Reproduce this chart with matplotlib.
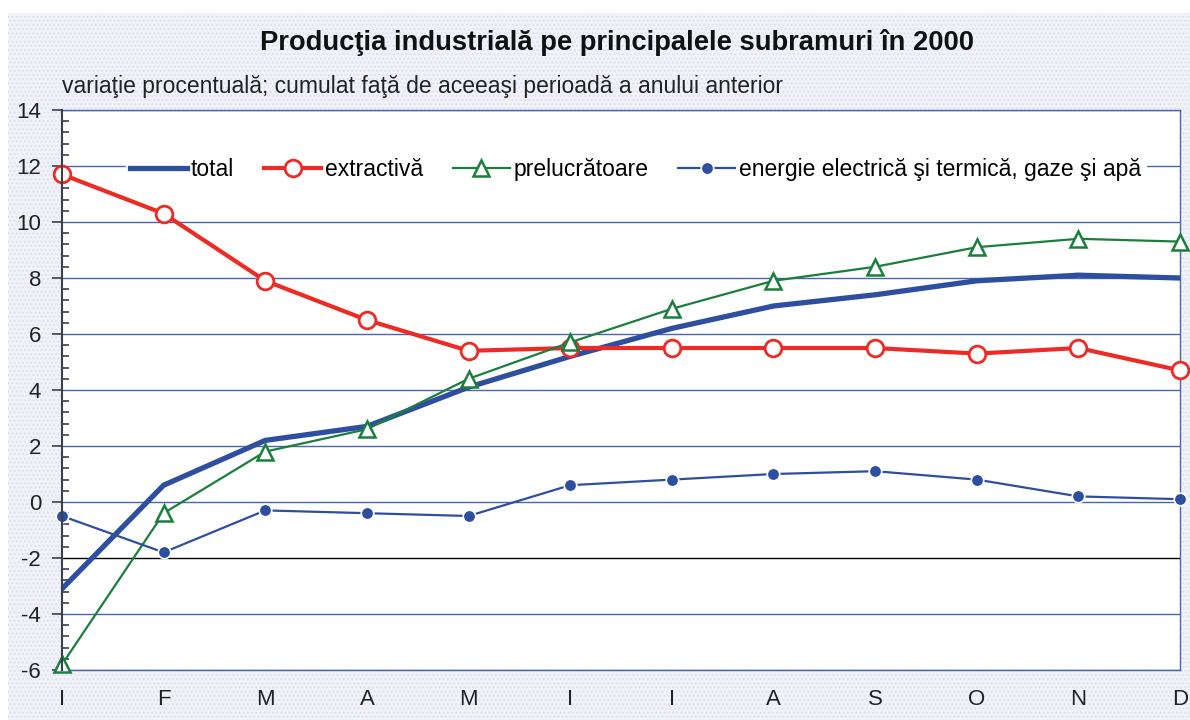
import numpy as np
import matplotlib.pyplot as plt
from matplotlib.patches import Rectangle
from matplotlib.ticker import MultipleLocator

plt.rcParams['font.family'] = ['Liberation Sans', 'DejaVu Sans']
plt.rcParams['axes.unicode_minus'] = False

months = ["I", "F", "M", "A", "M", "I", "I", "A", "S", "O", "N", "D"]
total = [-3.1, 0.6, 2.2, 2.7, 4.1, 5.2, 6.2, 7.0, 7.4, 7.9, 8.1, 8.0]
extractiva = [11.7, 10.3, 7.9, 6.5, 5.4, 5.5, 5.5, 5.5, 5.5, 5.3, 5.5, 4.7]
prelucratoare = [-5.8, -0.4, 1.8, 2.6, 4.4, 5.7, 6.9, 7.9, 8.4, 9.1, 9.4, 9.3]
energie = [-0.5, -1.8, -0.3, -0.4, -0.5, 0.6, 0.8, 1.0, 1.1, 0.8, 0.2, 0.1]

blue = '#2e4fa0'
red = '#ee2a24'
green = '#1a7f3c'
grid_blue = '#4a64b0'

fig = plt.figure(figsize=(11.9, 7.2), dpi=100)
fig.patch.set_facecolor('white')
# fundal cu textura fina
fig.patches.append(Rectangle((8/1190, 0), 1 - 8/1190, 1 - 13/720, transform=fig.transFigure,
                             facecolor='#f1f3f9', edgecolor='#dfe3f0', hatch='....',
                             linewidth=0, zorder=-10))

ax = fig.add_axes([62/1190, 1 - 670/720, (1180 - 62)/1190, 560/720])
ax.set_facecolor('white')

x = np.arange(len(months))
ax.plot(x, total, color=blue, lw=3.8, label='total', zorder=4, solid_joinstyle='round')
ax.plot(x, extractiva, color=red, lw=3, marker='o', ms=12, mfc='white', mec=red, mew=2,
        label='extractivă', zorder=5, clip_on=False)
ax.plot(x, prelucratoare, color=green, lw=1.6, marker='^', ms=11, mfc='white', mec=green, mew=1.8,
        label='prelucrătoare', zorder=5, clip_on=False)
ax.plot(x, energie, color=blue, lw=1.6, marker='o', ms=9, mfc=blue, mec='white', mew=1.2,
        label='energie electrică şi termică, gaze şi apă', zorder=5, clip_on=False)

ax.set_xlim(0, len(months) - 1)
ax.set_ylim(-6, 14)
ax.yaxis.set_major_locator(MultipleLocator(2))
ax.yaxis.set_minor_locator(MultipleLocator(0.4))
for v in range(-6, 15, 2):
    ax.axhline(v, color='black' if v == -2 else grid_blue, lw=1, zorder=1)

ax.set_xticks(x)
ax.set_xticklabels(months, fontsize=16, color='#222222')
ax.tick_params(axis='x', length=0, pad=14)
ax.tick_params(axis='y', which='major', direction='out', length=7, width=1.2,
               color='#3a4050', labelsize=16, labelcolor='#222222', pad=8)
ax.tick_params(axis='y', which='minor', direction='in', length=5, width=1.2, color='#3a4050')

for s in ['top', 'right', 'bottom']:
    ax.spines[s].set_color(grid_blue)
    ax.spines[s].set_linewidth(1)
ax.spines['left'].set_color('#3a4050')
ax.spines['left'].set_linewidth(1.5)
ax.spines['left'].set_zorder(6)

leg = ax.legend(loc='center', bbox_to_anchor=(0.513, 0.893), ncol=4, frameon=True,
                fontsize=16.5, handlelength=2.5, columnspacing=1.3, handletextpad=0.15,
                borderpad=0.2, fancybox=False)
leg.get_frame().set_facecolor('white')
leg.get_frame().set_edgecolor('white')
leg.get_frame().set_alpha(1)
leg.set_zorder(7)

fig.text(617/1190, 1 - 42/720, 'Producţia industrială pe principalele subramuri în 2000',
         ha='center', va='center', fontsize=19.7, fontweight='bold', color='#111111')
fig.text(62/1190, 1 - 87/720, 'variaţie procentuală; cumulat faţă de aceeaşi perioadă a anului anterior',
         ha='left', va='center', fontsize=16.5, color='#222222')

fig.savefig('out.png', dpi=100)
